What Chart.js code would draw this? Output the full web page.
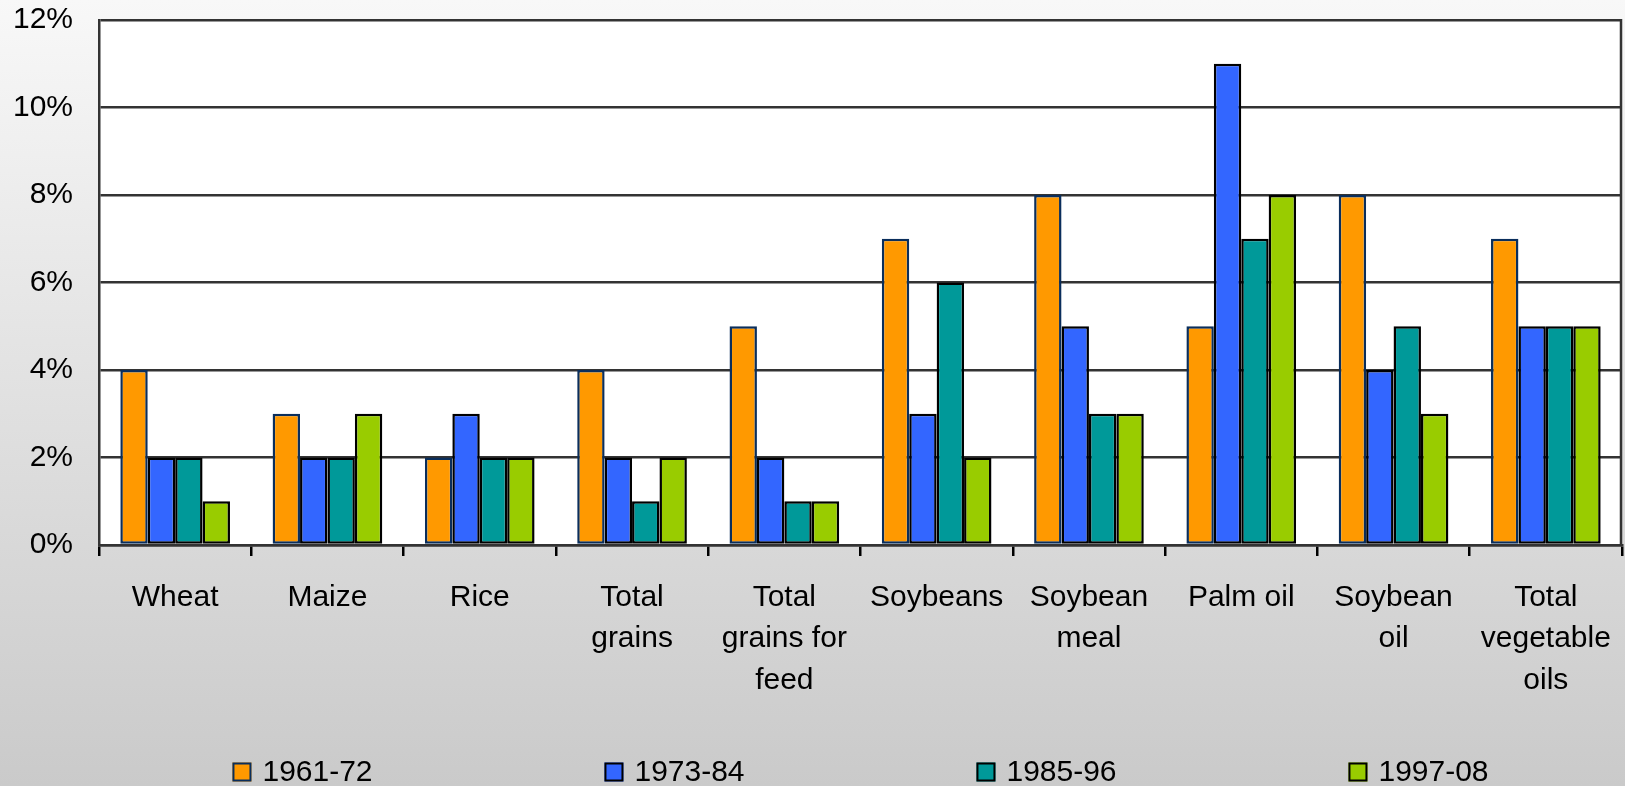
<!DOCTYPE html>
<html>
<head>
<meta charset="utf-8">
<script src="https://cdn.jsdelivr.net/npm/chart.js@4/dist/chart.umd.min.js"></script>
<style>
  html, body { margin: 0; padding: 0; }
  body { width: 1625px; height: 786px; overflow: hidden;
         background: linear-gradient(to bottom, #f8f8f8 0%, #cacaca 100%); }
  #wrap { position: relative; width: 1625px; height: 786px; }
</style>
</head>
<body>
<div id="wrap"><canvas id="c"></canvas></div>
<script>
// ---- data ----
const categories = [
  "Wheat", "Maize", "Rice", ["Total", "grains"], ["Total", "grains for", "feed"],
  "Soybeans", ["Soybean", "meal"], "Palm oil", ["Soybean", "oil"], ["Total", "vegetable", "oils"]
];
const seriesLabels = ["1961-72", "1973-84", "1985-96", "1997-08"];
const s1961 = [4, 3, 2, 4, 5, 7, 8, 5, 8, 7];
const s1973 = [2, 2, 3, 2, 2, 3, 5, 11, 4, 5];
const s1985 = [2, 2, 2, 1, 1, 6, 3, 7, 5, 5];
const s1997 = [1, 3, 2, 2, 1, 2, 3, 8, 3, 5];
const yTicks = [0, 2, 4, 6, 8, 10, 12];

const fills = ["#FF9900", "#3366FF", "#009999", "#99CC00"];
const borders = ["#0a2e5c", "#000000", "#000000", "#000000"];
const seriesValues = [s1961, s1973, s1985, s1997];

Chart.defaults.font.family = '"Liberation Sans", Arial, sans-serif';
Chart.defaults.color = "#000";

const plotBg = {
  id: "plotBg",
  beforeDraw(chart) {
    const { ctx, chartArea: a } = chart;
    ctx.save();
    ctx.fillStyle = "#ffffff";
    ctx.fillRect(a.left, a.top, a.right - a.left, a.bottom - a.top);
    ctx.restore();
  },
  afterDraw(chart) {
    const { ctx, chartArea: a } = chart;
    ctx.save();
    // right border of plot area
    ctx.strokeStyle = "#333333";
    ctx.lineWidth = 2.5;
    ctx.beginPath();
    ctx.moveTo(a.right - 1, a.top - 1);
    ctx.lineTo(a.right - 1, a.bottom);
    ctx.stroke();
    // legend
    const ds = chart.data.datasets;
    ctx.font = '30px "Liberation Sans", Arial, sans-serif';
    ctx.textBaseline = "middle";
    ctx.textAlign = "left";
    const box = 19, gap = 11, spacing = 372, cy = 772;
    const lastW = box + gap + ctx.measureText(ds[ds.length - 1].label).width;
    const total = spacing * (ds.length - 1) + lastW;
    let x = (a.left + a.right) / 2 - total / 2;
    ds.forEach((d) => {
      ctx.fillStyle = d.backgroundColor;
      ctx.fillRect(x, cy - box / 2, box, box);
      ctx.strokeStyle = d.borderColor;
      ctx.lineWidth = 2;
      ctx.strokeRect(x + 1, cy - box / 2 + 1, box - 2, box - 2);
      ctx.fillStyle = "#000";
      ctx.fillText(d.label, x + box + gap, cy + 1);
      x += spacing;
    });
    ctx.restore();
  }
};

new Chart(document.getElementById("c"), {
  type: "bar",
  data: {
    labels: categories,
    datasets: seriesLabels.map((lab, i) => ({
      label: lab,
      data: seriesValues[i],
      backgroundColor: fills[i],
      borderColor: borders[i],
      borderWidth: 2.5,
      borderSkipped: false,
      categoryPercentage: 0.72,
      barPercentage: 1.0
    }))
  },
  options: {
    responsive: true,
    maintainAspectRatio: false,
    animation: false,
    layout: { padding: { top: 20, right: 3, left: 0, bottom: 0 } },
    plugins: { legend: { display: false }, tooltip: { enabled: false } },
    scales: {
      x: {
        grid: { offset: true, drawOnChartArea: false, drawTicks: true, tickLength: 11, color: "#000", lineWidth: 2.5 },
        border: { display: true, color: "#333333", width: 2.5 },
        ticks: { font: { size: 30, lineHeight: 1.38 }, color: "#000", padding: 21, maxRotation: 0, autoSkip: false },
        afterFit(s) { s.height = 241; s.paddingLeft = 0; s.paddingRight = 0; }
      },
      y: {
        min: 0, max: 12,
        afterBuildTicks(s) { s.ticks = yTicks.map(v => ({ value: v })); },
        ticks: { font: { size: 30 }, color: "#000", padding: 26, callback: v => v + "%" },
        grid: { color: "#333333", lineWidth: 2.5, drawTicks: false },
        border: { display: true, color: "#333333", width: 2.5 },
        afterFit(s) { s.width = 99; s.paddingTop = 0; s.paddingBottom = 0; }
      }
    }
  },
  plugins: [plotBg]
});
</script>
</body>
</html>
